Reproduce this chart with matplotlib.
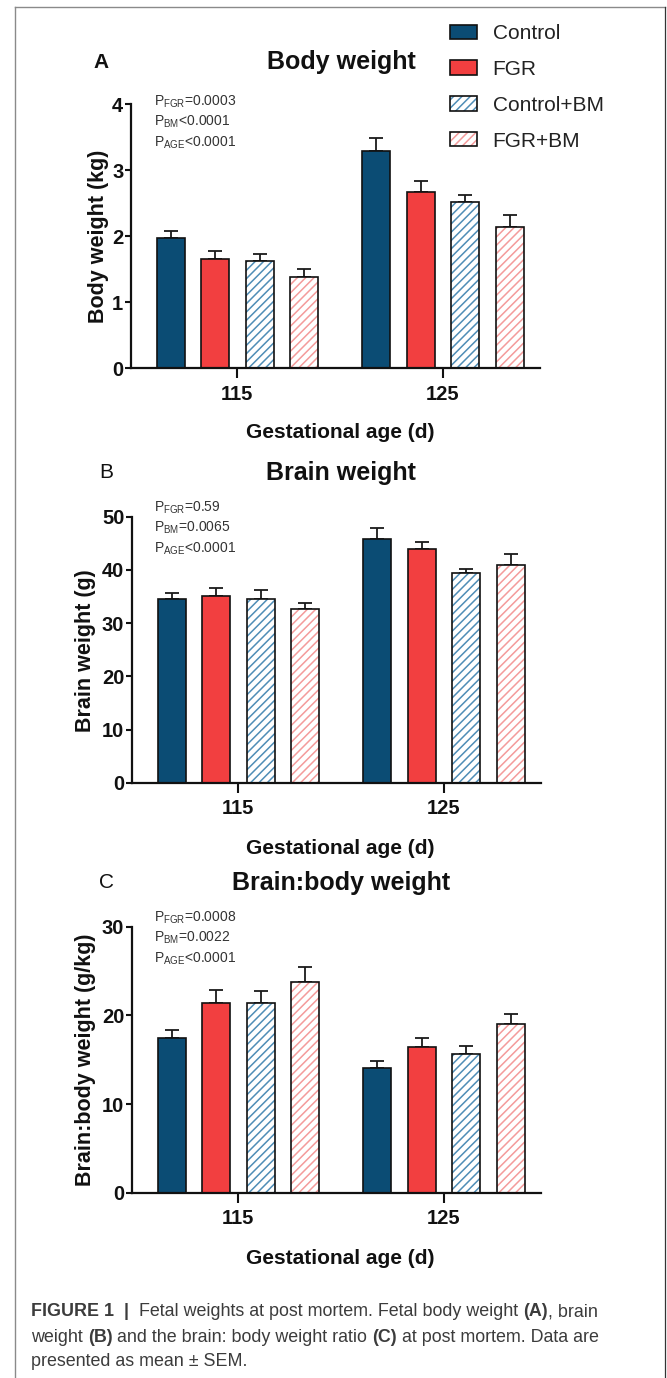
import matplotlib
matplotlib.use('Agg')
import matplotlib.pyplot as plt
from matplotlib.patches import Patch
from matplotlib.legend_handler import HandlerTuple
from matplotlib.lines import Line2D
import numpy as np

plt.rcParams['font.family'] = ['Liberation Sans', 'DejaVu Sans']
plt.rcParams['mathtext.fontset'] = 'custom'
plt.rcParams['mathtext.rm'] = 'Liberation Sans'
plt.rcParams['hatch.linewidth'] = 1.1

# ---------------- data ----------------
ages = ['115', '125']
groups = ['Control', 'FGR', 'Control+BM', 'FGR+BM']

body_mean = [[1.97, 3.29], [1.66, 2.67], [1.62, 2.52], [1.39, 2.14]]
body_err = [[0.11, 0.20], [0.12, 0.17], [0.11, 0.11], [0.11, 0.18]]

brain_mean = [[34.5, 45.9], [35.1, 44.0], [34.5, 39.4], [32.6, 41.0]]
brain_err = [[1.15, 1.9], [1.5, 1.3], [1.7, 0.8], [1.2, 2.0]]

ratio_mean = [[17.4, 14.1], [21.35, 16.4], [21.35, 15.65], [23.8, 19.06]]
ratio_err = [[0.9, 0.75], [1.55, 1.0], [1.35, 0.95], [1.65, 1.1]]

p_labels = ['FGR', 'BM', 'AGE']
body_p = ['=0.0003', '<0.0001', '<0.0001']
brain_p = ['=0.59', '=0.0065', '<0.0001']
ratio_p = ['=0.0008', '=0.0022', '<0.0001']

body_ticks = [0, 1, 2, 3, 4]
brain_ticks = [0, 10, 20, 30, 40, 50]
ratio_ticks = [0, 10, 20, 30]

# ---------------- style ----------------
fill_colors = ['#0b4c74', '#f23f40', 'white', 'white']
hatch_colors = [None, None, '#4f8db6', '#f49b9b']

W, H = 667, 1378
fig = plt.figure(figsize=(W / 100, H / 100), dpi=100)


def fx(x):
    return x / W


def fy(y):
    return 1 - y / H


centers = np.array([0.0, 4.62])
offsets = np.array([-1.5, -0.5, 0.5, 1.5])
bar_w = 0.63


def panel(left, right, top, bottom, means, errs, yticks, title, letter, ylabel,
          pvals, title_y, letter_x, letter_bold, ylabel_x, ylabel_y, ann_y,
          xlabel_y):
    ax = fig.add_axes([fx(left), fy(bottom), (right - left) / W, (bottom - top) / H])
    for gi in range(len(groups)):
        x = centers + offsets[gi]
        m = np.array(means[gi])
        e = np.array(errs[gi])
        ax.errorbar(x, m, yerr=[np.zeros_like(e), e], fmt='none', ecolor='#1a1a1a',
                    elinewidth=1.3, capsize=5.2, capthick=1.3, zorder=1)
        if hatch_colors[gi] is None:
            ax.bar(x, m, bar_w, color=fill_colors[gi], edgecolor='#111111',
                   linewidth=1.2, zorder=2)
        else:
            ax.bar(x, m, bar_w, color='white', edgecolor=hatch_colors[gi],
                   hatch='////', linewidth=0, zorder=2)
            ax.bar(x, m, bar_w, fill=False, edgecolor='#111111', linewidth=1.2, zorder=3)
    ax.set_xlim(-2.39, 6.80)
    ax.set_ylim(yticks[0], yticks[-1])
    ax.set_yticks(yticks)
    ax.set_xticks(centers)
    ax.set_xticklabels(ages)
    for s in ['top', 'right']:
        ax.spines[s].set_visible(False)
    for s in ['left', 'bottom']:
        ax.spines[s].set_linewidth(1.6)
        ax.spines[s].set_color('#111111')
    ax.tick_params(axis='y', length=4, width=1.5, pad=1.5, labelsize=14.5, colors='#111111')
    ax.tick_params(axis='x', length=7, width=1.5, pad=5, labelsize=14.5, colors='#111111')
    for lab in ax.get_xticklabels() + ax.get_yticklabels():
        lab.set_fontweight('bold')
    ax.patch.set_alpha(0)

    fig.text(fx(341), fy(title_y), title, fontsize=18, fontweight='bold',
             ha='center', va='center', color='#111111')
    fig.text(fx(letter_x), fy(title_y), letter, fontsize=15,
             fontweight='bold' if letter_bold else 'normal',
             ha='center', va='center', color='#111111')
    fig.text(fx(ylabel_x), fy(ylabel_y), ylabel, fontsize=15.5, fontweight='bold',
             rotation=90, ha='center', va='center', color='#111111')
    fig.text(fx(340), fy(xlabel_y), 'Gestational age (d)', fontsize=15,
             fontweight='bold', ha='center', va='center', color='#111111')
    for i, (lab, pv) in enumerate(zip(p_labels, pvals)):
        fig.text(fx(154), fy(ann_y[i]), r'P$_{\mathregular{' + lab + '}}$' + pv,
                 fontsize=10, ha='left', va='center', color='#333333')
    return ax


panel(131, 540, 104.3, 368.3, body_mean, body_err, body_ticks, 'Body weight', 'A',
      'Body weight (kg)', body_p, 62, 101, True, 98, 236, [102, 122, 143], 433)
panel(132, 541, 516.7, 782.7, brain_mean, brain_err, brain_ticks, 'Brain weight', 'B',
      'Brain weight (g)', brain_p, 473, 106, False, 85, 651, [508, 528, 549], 848)
panel(132, 541, 926.7, 1192.7, ratio_mean, ratio_err, ratio_ticks, 'Brain:body weight', 'C',
      'Brain:body weight (g/kg)', ratio_p, 883, 106, False, 85, 1060, [918, 938, 959], 1258)

# legend
handles = []
for gi in range(len(groups)):
    if hatch_colors[gi] is None:
        handles.append(Patch(facecolor=fill_colors[gi], edgecolor='#111111', linewidth=1.2))
    else:
        handles.append((Patch(facecolor='white', edgecolor=hatch_colors[gi], hatch='////', linewidth=0),
                        Patch(fill=False, edgecolor='#111111', linewidth=1.2)))
fig.legend(handles, groups, loc='upper left', bbox_to_anchor=(fx(450), fy(24)),
           frameon=False, fontsize=15, handlelength=1.3, handleheight=0.67,
           handletextpad=0.75, labelspacing=0.81, borderpad=0, borderaxespad=0,
           handler_map={tuple: HandlerTuple(ndivide=1, pad=0)}, labelcolor='#222222')

# caption
renderer = fig.canvas.get_renderer()
cap_color = '#3c3c3c'
cap_size = 12.9
cap_lines = [
    [('FIGURE 1', True), ('  |  ', True), ('Fetal weights at post mortem. Fetal body weight ', False),
     ('(A)', True), (', brain', False)],
    [('weight ', False), ('(B)', True), (' and the brain: body weight ratio ', False),
     ('(C)', True), (' at post mortem. Data are', False)],
    [('presented as mean \u00b1 SEM.', False)],
]
cap_y = [1312, 1337, 1362]
for line, yy in zip(cap_lines, cap_y):
    x = 31
    for txt, bold in line:
        t = fig.text(fx(x), fy(yy), txt, fontsize=cap_size,
                     fontweight='bold' if bold else 'normal', color=cap_color,
                     ha='left', va='center')
        x += t.get_window_extent(renderer=renderer).width

# frame
fig.add_artist(Line2D([fx(15), fx(15)], [fy(7), fy(1378)], color='#8a8a8a', linewidth=1.0))
fig.add_artist(Line2D([fx(15), fx(665)], [fy(7), fy(7)], color='#8a8a8a', linewidth=1.0))
fig.add_artist(Line2D([fx(665), fx(665)], [fy(7), fy(1378)], color='#333333', linewidth=0.9))

fig.savefig('out.png', dpi=100)
